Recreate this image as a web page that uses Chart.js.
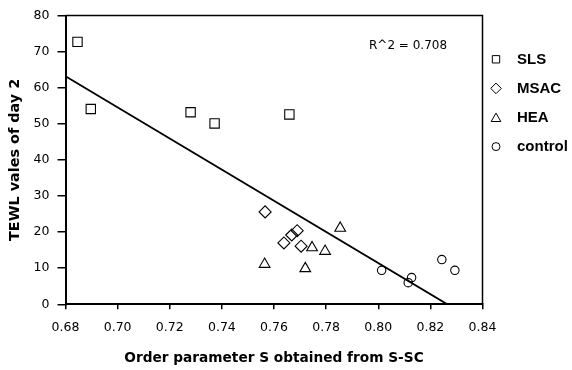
<!DOCTYPE html>
<html>
<head>
<meta charset="utf-8">
<script src="https://cdn.jsdelivr.net/npm/chart.js@4/dist/chart.umd.min.js"></script>
<style>
  html, body { margin: 0; padding: 0; background: #fff; }
  #wrap { width: 572px; height: 370px; }
</style>
</head>
<body>
<div id="wrap"><canvas id="c" width="572" height="370"></canvas></div>
<script>
// Order parameter S (x) vs. TEWL on day 2 (y), per treatment group
const groupNames = ['SLS', 'MSAC', 'HEA', 'control'];

const slsS      = [0.6846, 0.6897, 0.7280, 0.7372, 0.7659];
const slsTewl   = [72.7, 54.1, 53.2, 50.1, 52.6];

const msacS     = [0.7566, 0.7638, 0.7668, 0.7689, 0.7704];
const msacTewl  = [25.6, 17.0, 19.2, 20.4, 16.1];

const heaS      = [0.7564, 0.7720, 0.7746, 0.7796, 0.7854];
const heaTewl   = [11.1, 9.9, 15.7, 14.7, 21.1];

const ctrlS     = [0.8013, 0.8128, 0.8115, 0.8244, 0.8294];
const ctrlTewl  = [9.4, 7.4, 6.0, 12.4, 9.4];

// Linear fit across all groups
const fitS      = [0.68, 0.8265];
const fitTewl   = [63.2, 0];
const rSquared  = '0.708';

const xTicks = [0.68, 0.70, 0.72, 0.74, 0.76, 0.78, 0.80, 0.82, 0.84];
const yTicks = [0, 10, 20, 30, 40, 50, 60, 70, 80];

const xTitle = 'Order parameter S obtained from S-SC';
const yTitle = 'TEWL vales of day 2';

const toPoints = (xs, ys) => xs.map((x, i) => ({ x: x, y: ys[i] }));

const markerStyles = [
  { style: 'rect',     radius: 6.6, legendRadius: 5.2 },
  { style: 'rectRot',  radius: 6.0, legendRadius: 5.3 },
  { style: 'triangle', radius: 6.2, legendRadius: 5.6 },
  { style: 'circle',   radius: 4.2, legendRadius: 4.0 }
];
const groupData = [
  toPoints(slsS, slsTewl),
  toPoints(msacS, msacTewl),
  toPoints(heaS, heaTewl),
  toPoints(ctrlS, ctrlTewl)
];

const datasets = groupNames.map((name, i) => ({
  label: name,
  data: groupData[i],
  pointStyle: markerStyles[i].style,
  pointRadius: markerStyles[i].radius,
  pointBorderColor: '#000',
  pointBackgroundColor: 'rgba(0,0,0,0)',
  pointBorderWidth: 1.1,
  showLine: false
}));

datasets.unshift({
  label: 'fit',
  type: 'line',
  data: toPoints(fitS, fitTewl),
  borderColor: '#000',
  borderWidth: 1.8,
  pointRadius: 0,
  fill: false,
  tension: 0
});

function drawMarker(ctx, style, x, y, r) {
  ctx.beginPath();
  if (style === 'rect') {
    const h = r * Math.SQRT1_2;
    ctx.rect(x - h, y - h, 2 * h, 2 * h);
  } else if (style === 'rectRot') {
    ctx.moveTo(x - r, y); ctx.lineTo(x, y - r); ctx.lineTo(x + r, y); ctx.lineTo(x, y + r);
    ctx.closePath();
  } else if (style === 'triangle') {
    const a = 2 * Math.PI / 3;
    ctx.moveTo(x, y - r);
    ctx.lineTo(x + Math.sin(a) * r, y - Math.cos(a) * r);
    ctx.lineTo(x + Math.sin(2 * a) * r, y - Math.cos(2 * a) * r);
    ctx.closePath();
  } else {
    ctx.arc(x, y, r, 0, Math.PI * 2);
  }
  ctx.stroke();
}

const framePlugin = {
  id: 'frameAndNotes',
  afterDraw(chart) {
    const { ctx, chartArea } = chart;
    ctx.save();
    // top and right frame lines
    ctx.strokeStyle = '#000';
    ctx.lineWidth = 1.5;
    ctx.beginPath();
    ctx.moveTo(chartArea.left, chartArea.top);
    ctx.lineTo(chartArea.right, chartArea.top);
    ctx.lineTo(chartArea.right, chartArea.bottom);
    ctx.stroke();

    // R^2 note
    ctx.fillStyle = '#000';
    ctx.font = '12px "DejaVu Sans"';
    ctx.textAlign = 'left';
    ctx.textBaseline = 'middle';
    ctx.fillText('R^2 = ' + rSquared, 369, 45.5);

    // legend
    const lx = 496, tx = 517, y0 = 59.3, dy = 29.1;
    ctx.font = 'bold 15px "Liberation Sans", Arial, sans-serif';
    ctx.lineWidth = 1;
    groupNames.forEach((name, i) => {
      const y = y0 + i * dy;
      let my = y;
      if (markerStyles[i].style === 'triangle') my = y + 1.2;
      drawMarker(ctx, markerStyles[i].style, lx, my, markerStyles[i].legendRadius);
      ctx.fillText(name, tx, y + 0.5);
    });
    ctx.restore();
  }
};

const tickFont = { family: 'DejaVu Sans', size: 12.5 };

new Chart(document.getElementById('c').getContext('2d'), {
  type: 'scatter',
  data: { datasets: datasets },
  options: {
    responsive: false,
    animation: false,
    devicePixelRatio: 1,
    layout: { padding: { left: 0, right: 89.5, top: 12.5, bottom: 0 } },
    plugins: { legend: { display: false }, tooltip: { enabled: false } },
    scales: {
      x: {
        type: 'linear',
        min: xTicks[0],
        max: xTicks[xTicks.length - 1],
        afterBuildTicks: s => { s.ticks = xTicks.map(v => ({ value: v })); },
        afterFit: s => { s.height = 65.7; },
        ticks: {
          callback: v => Number(v).toFixed(2),
          font: tickFont, color: '#000', padding: 11,
          maxRotation: 0, autoSkip: false
        },
        grid: { drawOnChartArea: false, tickLength: 5, color: '#000', lineWidth: 1.5 },
        border: { color: '#000', width: 2 },
        title: {
          display: true, text: xTitle, color: '#000',
          font: { family: 'DejaVu Sans', size: 13.7, weight: 'bold' },
          padding: { top: 0, bottom: 3 }
        }
      },
      y: {
        type: 'linear',
        min: yTicks[0],
        max: yTicks[yTicks.length - 1],
        afterBuildTicks: s => { s.ticks = yTicks.map(v => ({ value: v })); },
        afterFit: s => { s.width = 65.5; },
        ticks: { font: tickFont, color: '#000', padding: 8 },
        grid: { drawOnChartArea: false, tickLength: 8, color: '#000', lineWidth: 1.5 },
        border: { color: '#000', width: 2 },
        title: {
          display: true, text: yTitle, color: '#000',
          font: { family: 'DejaVu Sans', size: 14.4, weight: 'bold' },
          padding: { top: 7, bottom: 0 }
        }
      }
    }
  },
  plugins: [framePlugin]
});
</script>
</body>
</html>
